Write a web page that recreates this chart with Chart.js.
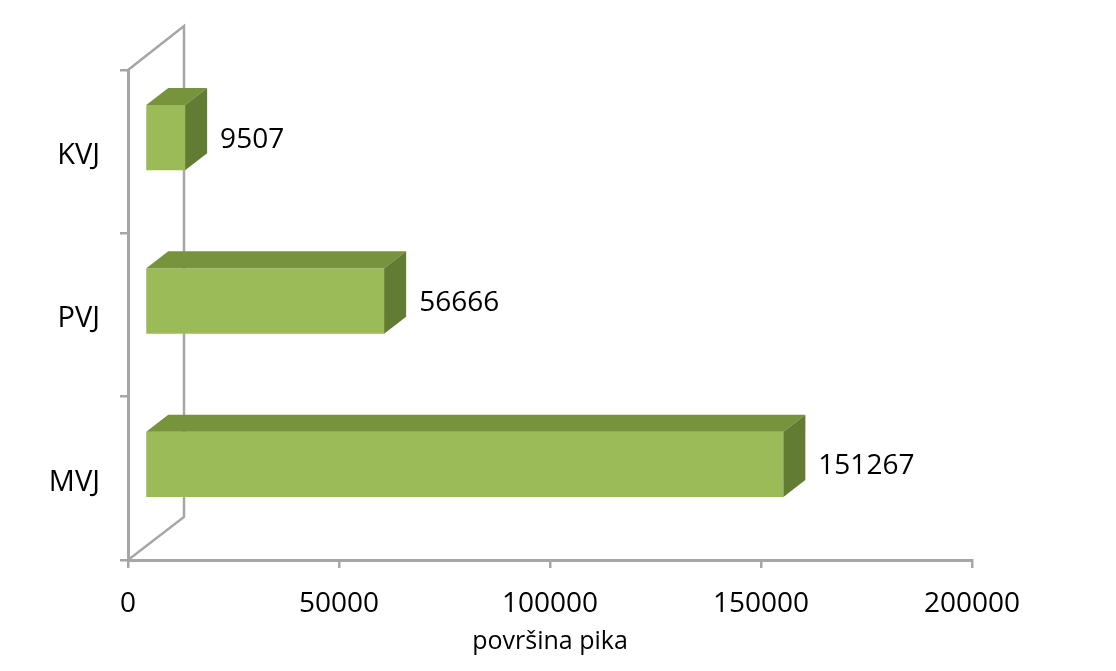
<!DOCTYPE html>
<html>
<head>
<meta charset="utf-8">
<script src="https://cdn.jsdelivr.net/npm/chart.js@4.4.1/dist/chart.umd.min.js"></script>
<style>
  html, body { margin: 0; padding: 0; background: #fff; }
  #wrap { width: 1116px; height: 671px; }
</style>
</head>
<body>
<div id="wrap"><canvas id="chart" width="1116" height="671"></canvas></div>
<script>
const categories = ["KVJ", "PVJ", "MVJ"];
const areaValues = [9507, 56666, 151267];
const xTicks = [0, 50000, 100000, 150000, 200000];
const axisTitle = "površina pika";

const FONT = "'Open Sans', 'Noto Sans', sans-serif";
const AXIS_GRAY = "#a6a6a6";
const DEPTH_X = 22, DEPTH_Y = -17;   // 3d depth of bars
const SHIFT_X = 17, SHIFT_Y = -14;   // bars sit a bit behind the front plane

// back wall + floor lines, drawn like excel 3d chart
const wallPlugin = {
    id: "wall",
    beforeDatasetsDraw(chart) {
        const a = chart.chartArea;
        const ctx = chart.ctx;
        ctx.save();
        ctx.strokeStyle = AXIS_GRAY;
        ctx.lineWidth = 2.5;
        ctx.beginPath();
        ctx.moveTo(a.left, a.top);
        ctx.lineTo(a.left + 56, a.top - 44);
        ctx.lineTo(a.left + 56, a.bottom - 43);
        ctx.lineTo(a.left, a.bottom);
        ctx.stroke();
        ctx.restore();

        // move the bars back into the box
        ctx.save();
        ctx.translate(SHIFT_X, SHIFT_Y);
    },
    afterDatasetsDraw(chart) {
        const ctx = chart.ctx;
        const meta = chart.getDatasetMeta(0);
        meta.data.forEach((bar, i) => {
            const x0 = bar.base, x1 = bar.x;
            const top = bar.y - bar.height / 2, bot = bar.y + bar.height / 2;
            // top face
            ctx.fillStyle = "#77933c";
            ctx.beginPath();
            ctx.moveTo(x0, top);
            ctx.lineTo(x0 + DEPTH_X, top + DEPTH_Y);
            ctx.lineTo(x1 + DEPTH_X, top + DEPTH_Y);
            ctx.lineTo(x1, top);
            ctx.closePath();
            ctx.fill();
            // side face
            ctx.fillStyle = "#627c33";
            ctx.beginPath();
            ctx.moveTo(x1, top);
            ctx.lineTo(x1 + DEPTH_X, top + DEPTH_Y);
            ctx.lineTo(x1 + DEPTH_X, bot + DEPTH_Y);
            ctx.lineTo(x1, bot);
            ctx.closePath();
            ctx.fill();
            // value label
            ctx.fillStyle = "#000";
            ctx.font = "28px " + FONT;
            ctx.textBaseline = "middle";
            ctx.textAlign = "left";
            ctx.fillText(String(areaValues[i]), x1 + DEPTH_X + 13, bar.y + 2);
        });
        ctx.restore();
    }
};

new Chart(document.getElementById("chart"), {
    type: "bar",
    data: {
        labels: categories,
        datasets: [{
            data: areaValues,
            backgroundColor: "#9bbb59",
            borderWidth: 0,
            barPercentage: 0.8,
            categoryPercentage: 0.5
        }]
    },
    options: {
        indexAxis: "y",
        responsive: false,
        animation: false,
        layout: { padding: { top: 70, right: 144, left: 0, bottom: 0 } },
        plugins: {
            legend: { display: false },
            tooltip: { enabled: false }
        },
        scales: {
            x: {
                min: 0,
                max: 200000,
                afterBuildTicks(scale) { scale.ticks = xTicks.map(v => ({ value: v })); },
                afterFit(scale) { scale.height = 111; },
                grid: { drawOnChartArea: false, drawTicks: true, tickLength: 8, color: AXIS_GRAY, lineWidth: 2.5 },
                border: { color: AXIS_GRAY, width: 3 },
                ticks: {
                    color: "#000",
                    font: { family: FONT, size: 28 },
                    padding: 19,
                    maxRotation: 0,
                    callback: v => String(v)
                },
                title: {
                    display: true,
                    text: axisTitle,
                    color: "#000",
                    font: { family: FONT, size: 25 },
                    padding: { top: 0, bottom: 14 }
                }
            },
            y: {
                afterFit(scale) { scale.width = 128; },
                grid: { drawOnChartArea: false, drawTicks: true, tickLength: 8, color: AXIS_GRAY, lineWidth: 2.5, offset: true },
                border: { color: AXIS_GRAY, width: 3 },
                ticks: {
                    color: "#000",
                    font: { family: FONT, size: 29 },
                    padding: 20,
                    labelOffset: 4
                }
            }
        }
    },
    plugins: [wallPlugin]
});
</script>
</body>
</html>
